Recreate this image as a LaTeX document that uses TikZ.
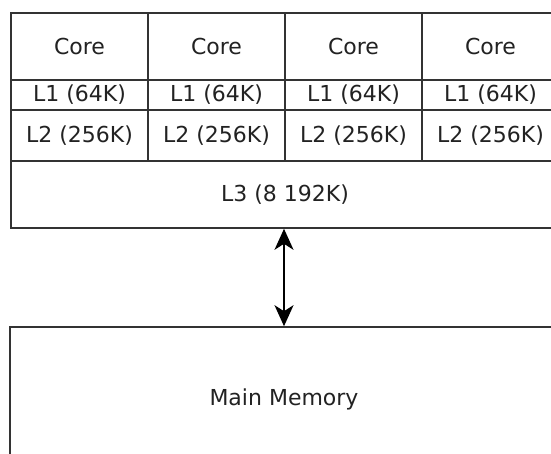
\documentclass[tikz,border=0pt]{standalone}
\usepackage{fontspec}
\setmainfont{DejaVu Sans}
\usetikzlibrary{arrows.meta}
\definecolor{edge}{HTML}{333333}
\definecolor{ink}{HTML}{222222}
\begin{document}
\begin{tikzpicture}[x=1pt,y=-1pt,
  cell/.style={draw=edge,line width=1.6pt,rectangle,inner sep=0pt,
    minimum width=137pt,text=ink,font=\fontsize{22}{25}\selectfont},
  corecell/.style={cell,minimum height=67pt},
  l1cell/.style={cell,minimum height=30pt},
  l2cell/.style={cell,minimum height=51pt},
  link/.style={draw=black,line width=1.6pt,{Stealth[length=21pt,width=19pt,inset=6pt]}-{Stealth[length=21pt,width=19pt,inset=6pt]}}]
\useasboundingbox (0,0) rectangle (551,454);
\clip (0,0) rectangle (551,454);
% four cores with their private L1 and L2 caches
\foreach \i/\cx in {1/79.5,2/216.5,3/353.5,4/490.5}{
  \node[corecell] (core\i) at (\cx,46.5) {Core};
  \node[l1cell] (l1\i) at (\cx,95) {L1 (64K)};
  \node[l2cell] (l2\i) at (\cx,135.5) {L2 (256K)};
}
% shared last-level cache
\node[cell,minimum width=548pt,minimum height=67pt] (l3) at (285,194.5) {L3 (8 192K)};
% main memory
\node[cell,minimum width=548pt,minimum height=145pt] (mem) at (284,399.5) {Main Memory};
\draw[link] (l3.south -| mem.north) -- (mem.north);
\end{tikzpicture}
\end{document}
